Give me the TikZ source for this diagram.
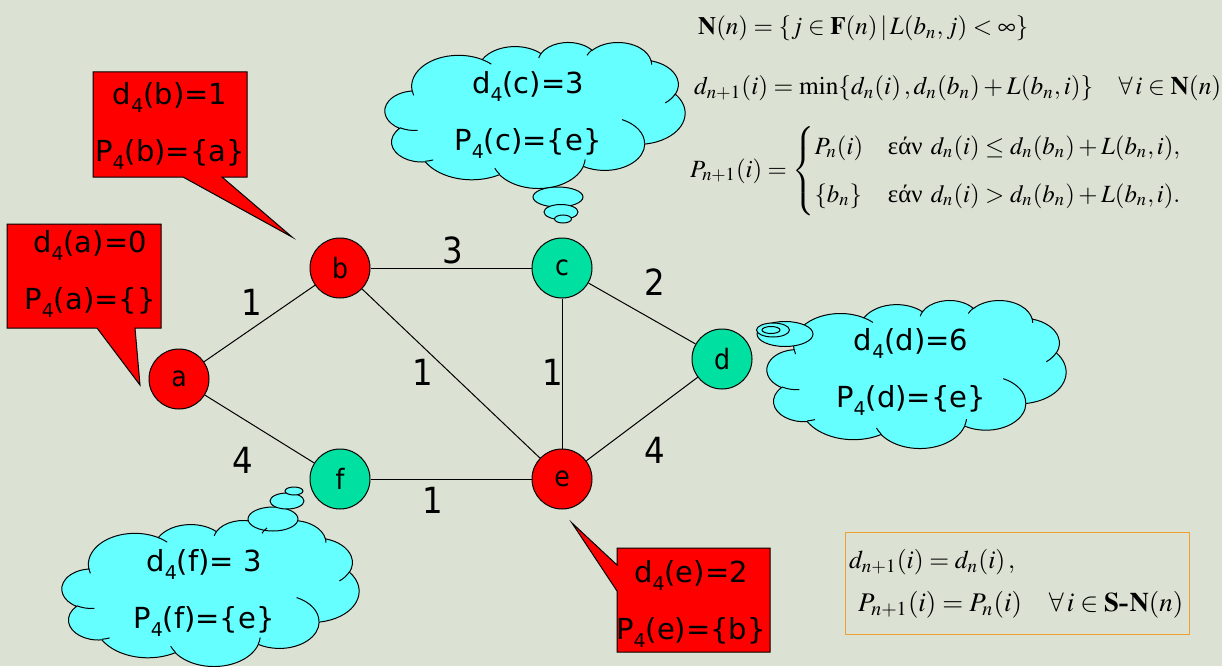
\documentclass[tikz,border=0pt]{standalone}
\usepackage{amsmath}
\usepackage{mathptmx}
\usepackage[no-math]{fontspec}
\usepackage{graphicx}
\newfontfamily\tah{DejaVu Sans Condensed}
\newfontfamily\tahw{DejaVu Sans}
\newfontfamily\grk{Liberation Serif}
\definecolor{bg}{RGB}{219,226,211}
\definecolor{vred}{RGB}{255,0,0}
\definecolor{vteal}{RGB}{0,224,160}
\definecolor{cloudfill}{RGB}{102,255,255}
\definecolor{boxorange}{RGB}{240,160,48}
\newcommand\sbs[1]{\raisebox{-8pt}{\fontsize{19pt}{19pt}\selectfont #1}}
% arc in DrawingML convention (geometric start angle, sweep)
\newcommand\cparc[4]{%
  \pgfmathsetmacro\cta{atan2((#1)*sin(#3),(#2)*cos(#3))}%
  \pgfmathsetmacro\ctb{atan2((#1)*sin((#3)+(#4)),(#2)*cos((#3)+(#4)))}%
  \pgfmathsetmacro\ctd{mod((\ctb)-(\cta)-(#4)+540,360)-180+(#4)}%
  \pgfmathsetmacro\cte{(\cta)+(\ctd)}%
  \pgfpatharc{\cta}{\cte}{#1pt and #2pt}}
\newcommand\cloudbody[4]{%
\begin{scope}[shift={(#1,#2)},xscale=#3/432,yscale=-#4/432]
\pgfsetlinewidth{1pt}\pgfsetstrokecolor{black}\pgfsetfillcolor{cloudfill}%
\pgfpathmoveto{\pgfpoint{39pt}{143.7pt}}%
\cparc{67.53}{91.90}{-190.48748}{123.78053}%
\cparc{53.33}{72.67}{-144.10238}{89.94523}%
\cparc{43.65}{59.45}{-145.80792}{99.72302}%
\cparc{48.57}{65.95}{-130.98607}{117.24173}%
\cparc{53.33}{72.73}{-78.70888}{109.02692}%
\cparc{67.75}{92.20}{-46.26725}{130.26900}%
\cparc{57.85}{78.67}{0.62502}{114.03333}%
\cparc{67.52}{92.15}{22.45160}{115.17255}%
\cparc{77.20}{105.43}{66.24263}{75.71102}%
\cparc{43.60}{59.18}{-274.94208}{146.73557}%
\cparc{43.45}{59.45}{-246.82850}{152.51885}%
\pgfpathclose
\pgfusepath{fill,stroke}%
\end{scope}}
\newcommand\cloudcreases[4]{%
\begin{scope}[shift={(#1,#2)},xscale=#3/432,yscale=-#4/432]
\pgfsetlinewidth{1pt}\pgfsetstrokecolor{black}%
\pgfpathmoveto{\pgfpoint{46.93pt}{261.77pt}}\cparc{43.45}{59.45}{86.742}{26.4295}%
\pgfpathmoveto{\pgfpoint{69.28pt}{348.99pt}}\cparc{43.60}{59.18}{73.6105}{11.4475}%
\pgfpathmoveto{\pgfpoint{164.78pt}{390.90pt}}\cparc{67.52}{92.15}{137.6241}{14.0811}%
\pgfpathmoveto{\pgfpoint{288.27pt}{347.51pt}}\cparc{67.52}{92.15}{6.4533}{15.9984}%
\pgfpathmoveto{\pgfpoint{341.29pt}{229.54pt}}\cparc{57.85}{78.67}{-70.2924}{70.9174}%
\pgfpathmoveto{\pgfpoint{417.98pt}{153.54pt}}\cparc{53.33}{72.73}{30.3180}{27.7515}%
\pgfpathmoveto{\pgfpoint{383.24pt}{54.26pt}}\cparc{48.57}{65.95}{-13.7443}{14.8589}%
\pgfpathmoveto{\pgfpoint{290.78pt}{39.52pt}}\cparc{48.57}{65.95}{-149.1815}{18.1954}%
\pgfpathmoveto{\pgfpoint{221.41pt}{47.20pt}}\cparc{43.65}{59.45}{-163.4943}{17.6864}%
\pgfpathmoveto{\pgfpoint{140.00pt}{51.92pt}}\cparc{67.53}{91.90}{-66.7070}{12.3194}%
\pgfpathmoveto{\pgfpoint{41.27pt}{157.89pt}}\cparc{67.53}{91.90}{157.6544}{11.8582}%
\pgfusepath{stroke}%
\end{scope}}
\tikzset{
  vtx/.style={circle, draw=black, line width=1pt, minimum size=60pt, inner sep=0pt,
    font=\tah\fontsize{28pt}{28pt}\selectfont},
  edge/.style={draw=black, line width=1pt},
  elab/.style={font=\tah\fontsize{36pt}{36pt}\selectfont, inner sep=0pt},
  callout/.style={draw=black, line width=1pt, fill=vred},
  ctext/.style={align=center, inner sep=0pt, font=\tahw\fontsize{29pt}{57pt}\selectfont},
  bubble/.style={draw=black, line width=1pt, fill=cloudfill},
  fml/.style={anchor=west, inner sep=0pt},
  fbox/.style={draw=boxorange, line width=1pt},
}
\begin{document}
\begin{tikzpicture}[x=1pt,y=-1pt]
\useasboundingbox (0,0) rectangle (1222,666);
\fill[bg] (0,0) rectangle (1222,666);

% graph
\node[vtx, fill=vred]  (a) at (179,379) {a};
\node[vtx, fill=vred]  (b) at (340,268) {b};
\node[vtx, fill=vteal] (c) at (562,268) {c};
\node[vtx, fill=vteal] (d) at (722,359) {d};
\node[vtx, fill=vred]  (e) at (562,479) {e};
\node[vtx, fill=vteal] (f) at (340,479) {f};
\draw[edge] (a) -- (b);
\draw[edge] (b) -- (c);
\draw[edge] (c) -- (d);
\draw[edge] (a) -- (f);
\draw[edge] (b) -- (e);
\draw[edge] (c) -- (e);
\draw[edge] (f) -- (e);
\draw[edge] (e) -- (d);
\node[elab] (lab) at (252,302) {1};
\node[elab] (lbc) at (453,250) {3};
\node[elab] (lcd) at (655,282) {2};
\node[elab] (lbe) at (423,372) {1};
\node[elab] (lce) at (553,372) {1};
\node[elab] (laf) at (243,460) {4};
\node[elab] (lfe) at (433,500) {1};
\node[elab] (led) at (655,450) {4};

% red callouts
\draw[callout] (93,72) -- (247,72) -- (247,177) -- (222,177) -- (292,237) -- (183,177) -- (93,177) -- cycle;
\node[ctext] (tb) at (170,126) {d\sbs{4}(b)=1\\P\sbs{4}(b)=\{a\}};
\draw[callout] (7,224) -- (161,224) -- (161,328) -- (135,328) -- (140,385) -- (97,328) -- (7,328) -- cycle;
\node[ctext] (ta) at (90,274) {d\sbs{4}(a)=0\\P\sbs{4}(a)=\{\}};
\draw[callout] (617,548) -- (770,548) -- (770,652) -- (617,652) -- (617,591) -- (572,523) -- (617,565) -- cycle;
\node[ctext] (te) at (691,604) {d\sbs{4}(e)=2\\P\sbs{4}(e)=\{b\}};

% clouds
\cloudbody{385}{42}{300}{146}
\draw[bubble] (558,197) ellipse [x radius=25, y radius=10];
\draw[bubble] (561,212) ellipse [x radius=17, y radius=7.5];
\draw[bubble] (563,219) ellipse [x radius=8.5, y radius=4];
\cloudcreases{385}{42}{300}{146}
\node[ctext] (tc) at (528,115) {d\sbs{4}(c)=3\\P\sbs{4}(c)=\{e\}};

\cloudbody{767}{300}{299}{148}
\draw[bubble] (785,334) ellipse [x radius=28, y radius=12.5];
\draw[bubble] (773,330) ellipse [x radius=16.5, y radius=7];
\draw[bubble] (771,330) ellipse [x radius=9, y radius=3.5];
\cloudcreases{767}{300}{299}{148}
\node[ctext] (td) at (911,372) {d\sbs{4}(d)=6\\P\sbs{4}(d)=\{e\}};

\cloudbody{62}{520}{297}{146}
\draw[bubble] (273,519) ellipse [x radius=25, y radius=12];
\draw[bubble] (287,501) ellipse [x radius=17, y radius=8];
\draw[bubble] (294,491) ellipse [x radius=9, y radius=4];
\cloudcreases{62}{520}{297}{146}
\node[ctext] (tf) at (204,593) {d\sbs{4}(f)= 3\\P\sbs{4}(f)=\{e\}};

% formulas
\node[fml] (f1) at (698,28) {\resizebox{330pt}{!}{$\mathbf{N}(n)=\{j\in\mathbf{F}(n)\,|\,L(b_n,j)<\infty\}$}};
\node[fml] (f2) at (694,88) {\resizebox{527pt}{!}{$d_{n+1}(i)=\min\{d_n(i)\,,d_n(b_n)+L(b_n,i)\}\quad\forall\, i\in\mathbf{N}(n)$}};
\node[fml] (f3) at (690,171) {\resizebox{493pt}{!}{$P_{n+1}(i)=\begin{cases}P_n(i) & \text{\grk εάν} \ d_n(i)\le d_n(b_n)+L(b_n,i),\\[5pt] \{b_n\} & \text{\grk εάν} \ d_n(i)>d_n(b_n)+L(b_n,i).\end{cases}$}};

\draw[fbox] (845,532) rectangle (1189,634);
\node[fml] (g1) at (849,562) {\resizebox{166pt}{!}{$d_{n+1}(i)=d_n(i)\,,$}};
\node[fml] (g2) at (858,605) {\resizebox{325pt}{!}{$P_{n+1}(i)=P_n(i)\quad\forall\, i\in\mathbf{S}\textbf{-}\mathbf{N}(n)$}};
\end{tikzpicture}
\end{document}
